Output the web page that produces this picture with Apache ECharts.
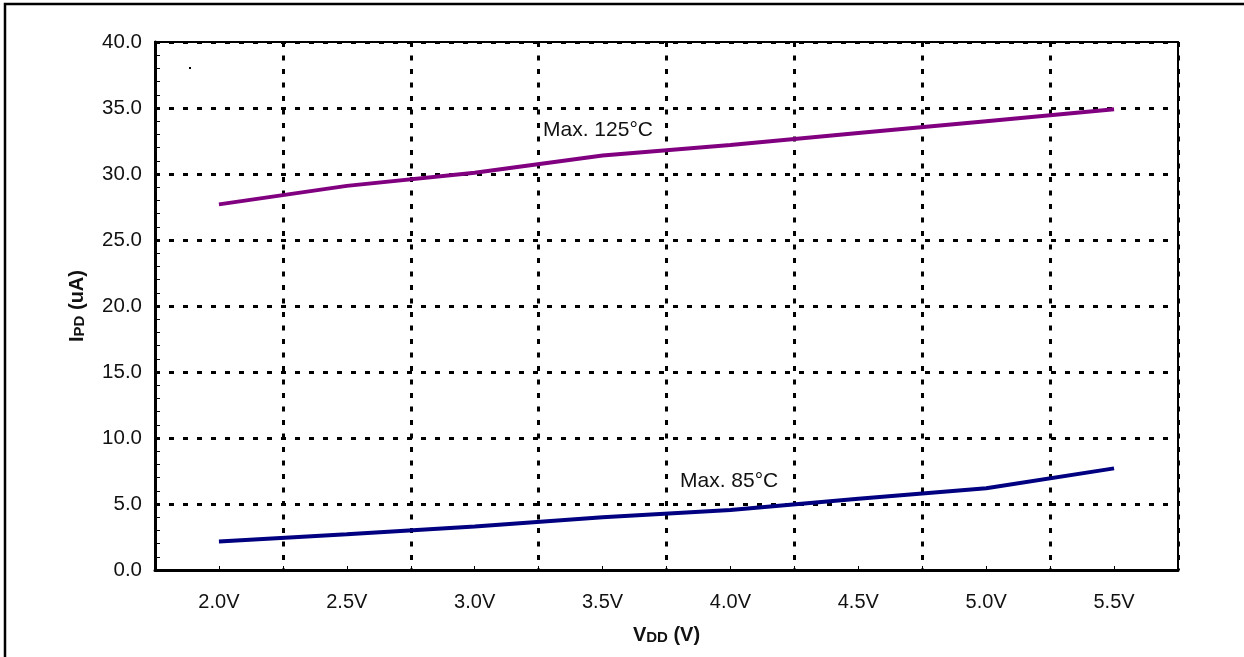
<!DOCTYPE html>
<html>
<head>
<meta charset="utf-8">
<script src="https://cdn.jsdelivr.net/npm/echarts@6/dist/echarts.min.js"></script>
<style>
html,body{margin:0;padding:0;background:#fff;}
#chart{width:1244px;height:657px;}
</style>
</head>
<body>
<div id="chart"></div>
<script>
const categories = ['2.0V','2.5V','3.0V','3.5V','4.0V','4.5V','5.0V','5.5V'];
const max125 = [27.7, 29.1, 30.1, 31.4, 32.2, 33.1, 34.0, 34.9];
const max85 = [2.15, 2.7, 3.3, 4.0, 4.55, 5.4, 6.2, 7.7];
const yTicks = {min: 0, max: 40, interval: 5};
const seriesNames = ['Max. 125°C', 'Max. 85°C'];

const FONT = 'Liberation Sans, Arial, sans-serif';
const chart = echarts.init(document.getElementById('chart'), null, {renderer: 'canvas'});

const dotted = {color: '#000', width: 3, type: [5, 9]};

chart.setOption({
  animation: false,
  backgroundColor: '#fff',
  grid: {left: 155, right: 66, top: 42, bottom: 87, show: true, borderColor: '#000', borderWidth: 2, backgroundColor: 'transparent'},
  xAxis: [{
    type: 'category',
    data: categories,
    boundaryGap: true,
    axisLine: {show: true, lineStyle: {color: '#000', width: 3}},
    axisTick: {show: true, inside: true, length: 4, lineStyle: {color: '#000', width: 1}},
    axisLabel: {color: '#111', fontFamily: FONT, fontSize: 20, margin: 22},
    splitLine: {show: true, lineStyle: {color: '#000', width: 3, type: [5, 8.5]}},
    name: '{a|V}{b|DD}{a| (V)}',
    nameLocation: 'middle',
    nameGap: 55,
    nameTextStyle: {
      rich: {
        a: {fontFamily: FONT, fontSize: 20, fontWeight: 'bold', color: '#111', verticalAlign: 'bottom'},
        b: {fontFamily: FONT, fontSize: 15, fontWeight: 'bold', color: '#111', verticalAlign: 'bottom'}
      }
    }
  }, {
    type: 'category',
    data: categories,
    boundaryGap: true,
    position: 'bottom',
    axisLine: {show: false},
    axisTick: {show: true, inside: true, length: 4, alignWithLabel: true, lineStyle: {color: '#000', width: 1}},
    axisLabel: {show: false},
    splitLine: {show: false}
  }],
  yAxis: {
    type: 'value',
    min: yTicks.min, max: yTicks.max, interval: yTicks.interval,
    axisLine: {show: true, lineStyle: {color: '#000', width: 3}},
    axisTick: {show: true, inside: true, length: 5, lineStyle: {color: '#000', width: 1}},
    minorTick: {show: true, splitNumber: 5, length: 5, lineStyle: {color: '#000', width: 1}},
    axisLabel: {color: '#111', fontFamily: FONT, fontSize: 20.5, margin: 13, formatter: v => v.toFixed(1)},
    splitLine: {show: true, lineStyle: dotted},
    name: '{a|I}{b|PD}{a| (uA)}',
    nameLocation: 'middle',
    nameGap: 68,
    nameRotate: 90,
    nameTextStyle: {
      rich: {
        a: {fontFamily: FONT, fontSize: 20, fontWeight: 'bold', color: '#111', verticalAlign: 'bottom'},
        b: {fontFamily: FONT, fontSize: 15, fontWeight: 'bold', color: '#111', verticalAlign: 'bottom'}
      }
    }
  },
  series: [{
    name: seriesNames[0],
    type: 'line',
    data: max125,
    symbol: 'none',
    lineStyle: {color: '#800080', width: 4},
    z: 5
  }, {
    name: seriesNames[1],
    type: 'line',
    data: max85,
    symbol: 'none',
    lineStyle: {color: '#000080', width: 4},
    z: 5
  }],
  graphic: [
    {type: 'rect', shape: {x: 5, y: 4, width: 1300, height: 700}, style: {fill: 'none', stroke: '#000', lineWidth: 2.5}, silent: true},
    {type: 'rect', shape: {x: 189, y: 67, width: 2, height: 2}, style: {fill: '#000'}, silent: true},
    {type: 'rect', shape: {x: 540, y: 120, width: 124, height: 23}, style: {fill: '#fff'}, z: 10, silent: true},
    {type: 'text', left: 543, top: 120, z: 11, style: {text: seriesNames[0], fontFamily: FONT, fontSize: 21, fill: '#111'}},
    {type: 'text', left: 680, top: 471, z: 11, style: {text: seriesNames[1], fontFamily: FONT, fontSize: 21, fill: '#111'}}
  ]
});
</script>
</body>
</html>
